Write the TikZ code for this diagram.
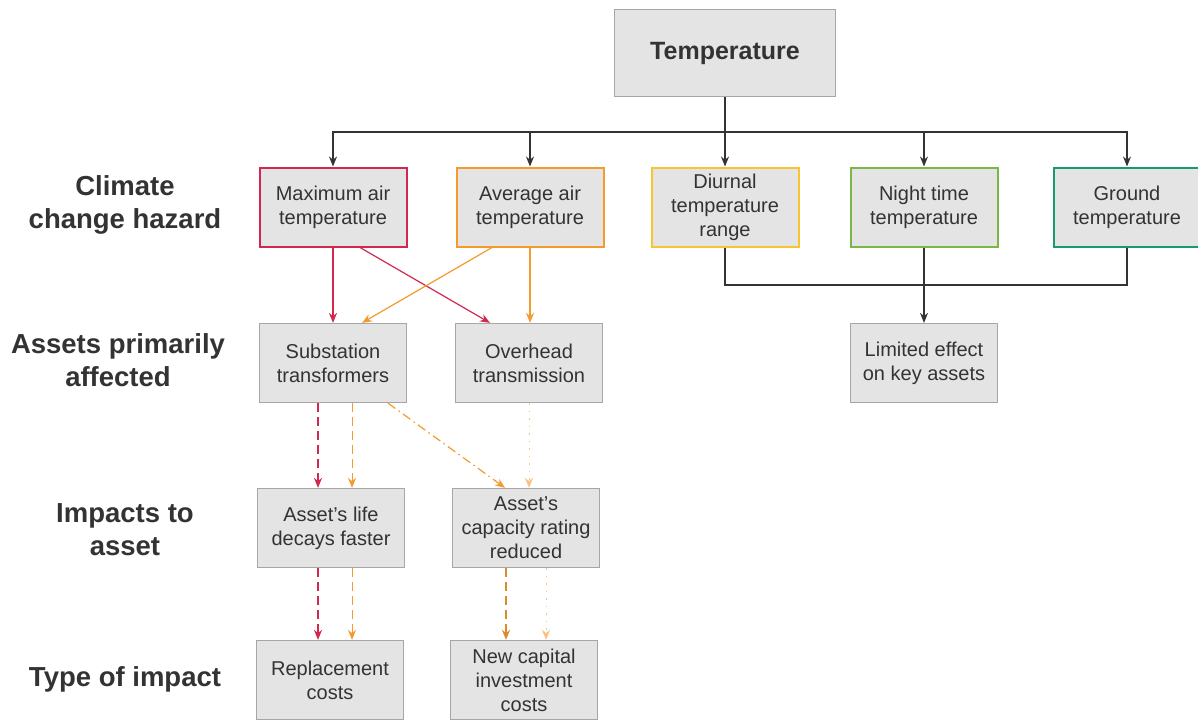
\documentclass[tikz,border=0pt]{standalone}
\usepackage{fontspec}
\setmainfont{Liberation Sans}
\usetikzlibrary{arrows.meta}

\definecolor{hzred}{HTML}{D1284F}
\definecolor{hzorange}{HTML}{F49B2E}
\definecolor{hzyellow}{HTML}{F7C531}
\definecolor{hzgreen}{HTML}{7AB648}
\definecolor{hzteal}{HTML}{1A9A6B}
\definecolor{boxgray}{HTML}{E4E4E4}
\definecolor{linegray}{HTML}{A6A6A6}
\definecolor{txt}{HTML}{333333}

\tikzset{
 box/.style={draw=linegray, fill=boxgray, line width=1.3pt, minimum width=147, minimum height=79, align=center, text=txt, font=\fontsize{20}{24}\selectfont, inner sep=2},
 hazard/.style={box, line width=2pt},
 rowlabel/.style={align=center, text=txt, font=\bfseries\fontsize{27.5}{33}\selectfont},
 arr/.style={-{Stealth[length=10pt,width=8pt]}, line width=1.2pt},
 longdash/.style={dash pattern=on 9pt off 5pt},
 dashdot/.style={dash pattern=on 9pt off 4pt on 1.5pt off 4pt},
 sparsedot/.style={dash pattern=on 1.5pt off 6pt},
}

\begin{document}
\begin{tikzpicture}[x=1pt,y=-1pt]
\useasboundingbox[fill=white] (0,0) rectangle (1198,721);
% row labels
\node[rowlabel] (lhazard) at (125,205) {Climate\\change hazard};
\node[rowlabel] (lassets) at (118,360) {Assets primarily\\affected};
\node[rowlabel] (limpact) at (125,530) {Impacts to\\asset};
\node[rowlabel] (ltype) at (125,679) {Type of impact};
% top
\node[box, minimum width=221, minimum height=87, font=\bfseries\fontsize{25}{28}\selectfont] (temp) at (725,53) {Temperature};
% hazards
\node[hazard, draw=hzred] (maxair) at (333,207) {Maximum air\\temperature};
\node[hazard, draw=hzorange] (avgair) at (530,207) {Average air\\temperature};
\node[hazard, draw=hzyellow] (diurnal) at (725,207) {Diurnal\\temperature\\range};
\node[hazard, draw=hzgreen] (night) at (924,207) {Night time\\temperature};
\node[hazard, draw=hzteal] (ground) at (1127,207) {Ground\\temperature};
% assets
\node[box] (subst) at (333,363) {Substation\\transformers};
\node[box] (overhead) at (529,363) {Overhead\\transmission};
\node[box] (limited) at (924,363) {Limited effect\\on key assets};
% impacts
\node[box] (life) at (331,528) {Asset's life\\decays faster};
\node[box] (capacity) at (526,528) {Asset's\\capacity rating\\reduced};
% type of impact
\node[box] (replace) at (330,680) {Replacement\\costs};
\node[box] (newcap) at (524,680) {New capital\\investment\\costs};

% tree from temperature
\coordinate (bus) at (725,132);
\draw[txt, line width=1.2pt] (temp.south) -- (bus);
\foreach \n in {maxair,avgair,diurnal,night,ground}
 \draw[arr, txt] (bus) -| (\n.north);
\coordinate (join) at (924,285);
\draw[txt, line width=1.2pt] (diurnal.south) |- (join);
\draw[txt, line width=1.2pt] (ground.south) |- (join);
\draw[arr, txt] (night.south) -- (limited.north);

% hazards to assets
\draw[arr, hzred] (maxair.south) -- (subst.north);
\draw[arr, hzred] ([xshift=27]maxair.south) -- ([xshift=-39]overhead.north);
\draw[arr, hzorange] ([xshift=-38]avgair.south) -- ([xshift=29]subst.north);
\draw[arr, hzorange] (avgair.south) -- (avgair.south |- overhead.north);

% assets to impacts
\draw[arr, hzred, longdash, line width=1.5pt] ([xshift=-15]subst.south) -- ([xshift=-15]subst.south |- life.north);
\draw[arr, hzorange, longdash, line width=1pt] ([xshift=19]subst.south) -- ([xshift=19]subst.south |- life.north);
\draw[arr, hzorange, dashdot, line width=1.2pt] ([xshift=55]subst.south) -- ([xshift=-21]capacity.north);
\draw[arr, hzorange!60, sparsedot, line width=1pt] (overhead.south) -- (overhead.south |- capacity.north);

% impacts to costs
\draw[arr, hzred, longdash, line width=1.5pt] ([xshift=-13]life.south) -- ([xshift=-13]life.south |- replace.north);
\draw[arr, hzorange, longdash, line width=1pt] ([xshift=21]life.south) -- ([xshift=21]life.south |- replace.north);
\draw[arr, hzorange!90!black, longdash, line width=1.5pt] ([xshift=-20]capacity.south) -- ([xshift=-20]capacity.south |- newcap.north);
\draw[arr, hzorange!60, sparsedot, line width=1pt] ([xshift=20]capacity.south) -- ([xshift=20]capacity.south |- newcap.north);
\end{tikzpicture}
\end{document}
